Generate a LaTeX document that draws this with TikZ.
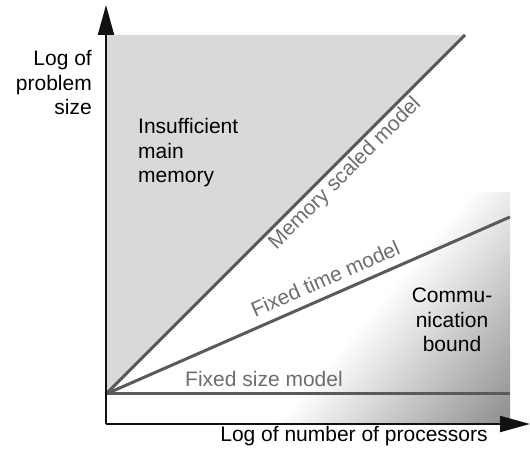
\documentclass[tikz,border=0pt]{standalone}
\usepackage{fontspec}
\setmainfont{Liberation Sans}
\usetikzlibrary{arrows.meta,calc}

\definecolor{regiongray}{HTML}{D8D9D9}
\definecolor{modelline}{HTML}{5A5A5A}
\definecolor{modeltext}{HTML}{6E6E6E}
\definecolor{axisblack}{HTML}{111111}

% diagonal fade used for the communication-bound corner
\pgfdeclarehorizontalshading{commgrad}{100bp}{color(0bp)=(white); color(41bp)=(white); color(50bp)=(black!45); color(100bp)=(black!45)}

\begin{document}
\begin{tikzpicture}[x=1pt,y=1pt,
  axisline/.style={draw=axisblack, line width=2pt, -{Triangle[length=30pt,width=16pt]}},
  modelrule/.style={draw=modelline, line width=3pt},
  labeltext/.style={font=\fontsize{21}{24.5}\selectfont, text=black, inner sep=0pt},
  modellabel/.style={font=\fontsize{21}{24.5}\selectfont, text=modeltext, inner sep=0pt}]

\useasboundingbox (0,0) rectangle (530,455);

% key points
\coordinate (O) at (106,61);
\coordinate (corner) at (106,31);
\coordinate (ytip) at (106,450);
\coordinate (xtip) at (530,31);
\coordinate (memtop) at (465,420);
\coordinate (topleft) at (106,420);
\coordinate (timeend) at (510,238);
\coordinate (sizeend) at (510,61);

% communication-bound shading, darkest in the lower right corner
\begin{scope}
  \clip (106,31) rectangle (510,262);
  \shade[shading=commgrad, shading angle=-40] (10,-469) rectangle (1010,531);
\end{scope}

% insufficient-memory region
\fill[regiongray] (O) -- (topleft) -- (memtop) -- cycle;

% model boundaries
\draw[modelrule] (O) -- (memtop);
\draw[modelrule] (O) -- (timeend);
\draw[modelrule] (O) -- (sizeend);

% axes
\draw[axisline] (corner) -- (ytip);
\draw[axisline] (corner) -- (xtip);

% labels
\node[labeltext, align=right, anchor=base east] (ylab) at (92,340) {Log of\\problem\\size};
\node[labeltext, anchor=base] (xlab) at (354,13) {Log of number of processors};
\node[labeltext, align=left, anchor=base west] (mem) at (138,272) {Insufficient\\main\\memory};
\node[labeltext, align=center, anchor=base] (comm) at (452,103) {Commu-\\nication\\bound};

% model names along their lines
\path (O) -- (memtop) coordinate[pos=0.64] (memmid);
\node[modellabel, rotate=45, anchor=base] (memlab) at ($(memmid)!19pt!-90:(memtop)$) {Memory scaled model};
\path (O) -- (timeend) coordinate[pos=0.56] (timemid);
\node[modellabel, rotate=23.66, anchor=base] (timelab) at ($(timemid)!10pt!90:(timeend)$) {Fixed time model};
\node[modellabel, anchor=base] (sizelab) at (264,68) {Fixed size model};
\end{tikzpicture}
\end{document}
